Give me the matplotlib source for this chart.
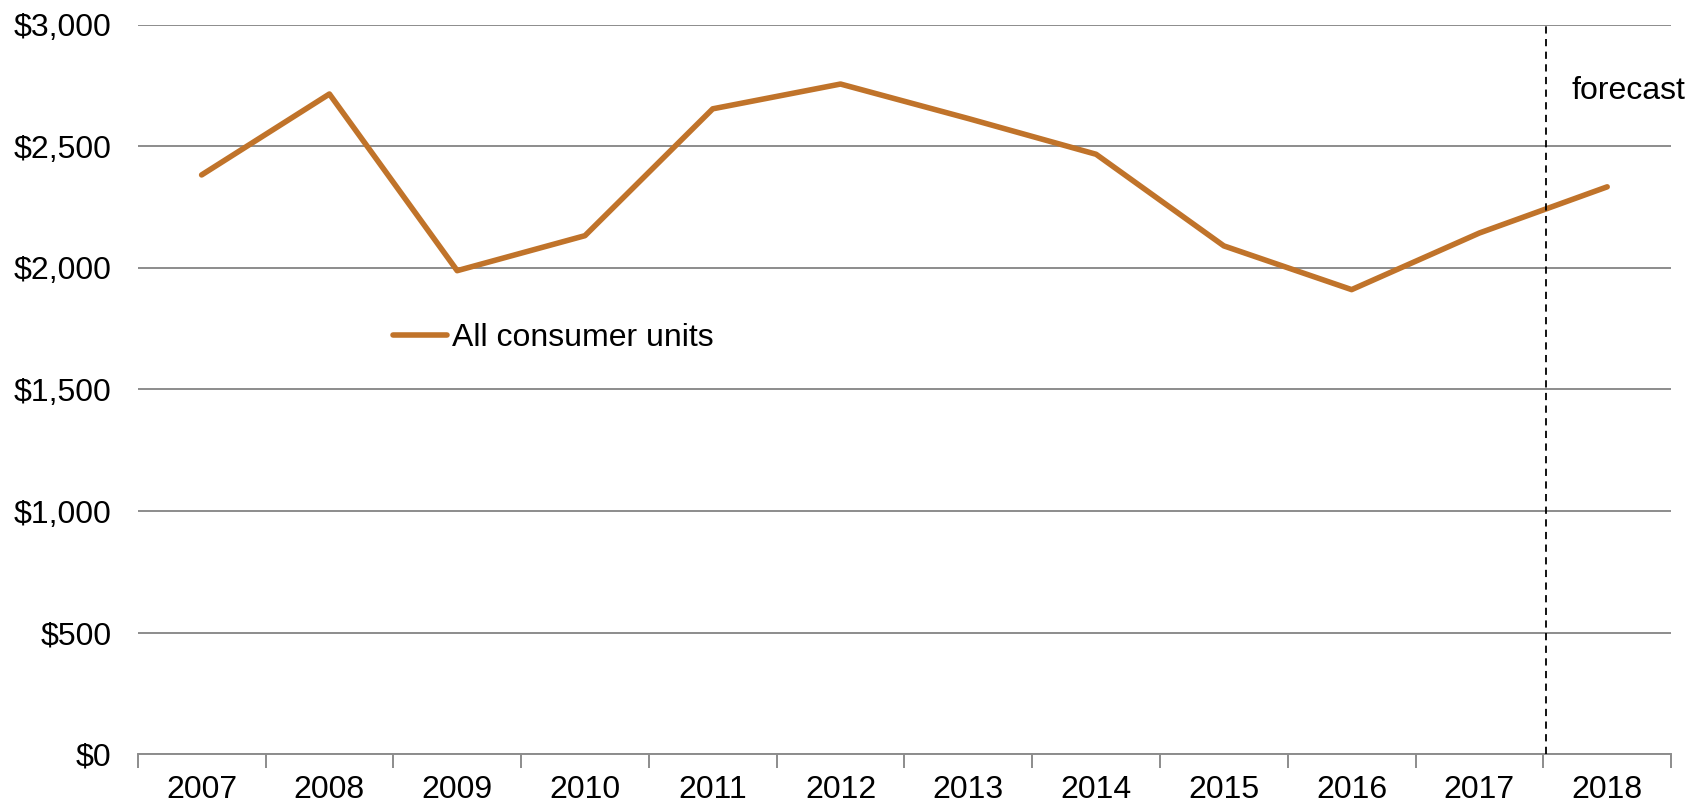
import matplotlib
matplotlib.use('Agg')
import matplotlib.pyplot as plt
import numpy as np

years = ['2007', '2008', '2009', '2010', '2011', '2012', '2013', '2014', '2015', '2016', '2017', '2018']
spending = [2383, 2716, 1989, 2133, 2655, 2757, 2615, 2468, 2091, 1911, 2144, 2334]
series_name = 'All consumer units'
y_ticks = [0, 500, 1000, 1500, 2000, 2500, 3000]
forecast_at = 10.52

fs = 23
matplotlib.rcParams.update({'font.family': ['Liberation Sans', 'DejaVu Sans'], 'font.size': fs})

fig = plt.figure(figsize=(16.9, 8.06), dpi=100)
ax = fig.add_axes([0.0815, 0.0645, 0.9073, 0.9045])

x = np.arange(len(years))
ax.plot(x, spending, color='#C0732A', linewidth=4.0, solid_capstyle='round',
        solid_joinstyle='round', label=series_name, zorder=3)

ax.axvline(forecast_at, color='black', linestyle=(0, (4, 3)), linewidth=1.3, zorder=4)
ax.text(forecast_at + 0.2, 2730, 'forecast', ha='left', va='center', fontsize=fs)

ax.set_xlim(-0.5, len(years) - 0.5)
ax.set_ylim(0, 3000)

ax.set_yticks(y_ticks)
ax.set_yticklabels(['${:,}'.format(v) for v in y_ticks])
ax.yaxis.grid(True, color='#8c8c8c', linewidth=1.4)
ax.set_axisbelow(True)
ax.tick_params(axis='y', length=0, pad=19)

# boundaries get the tick marks, centres get the labels
ax.set_xticks(np.arange(-0.5, len(years), 1.0))
ax.set_xticklabels([])
ax.set_xticks(x, minor=True)
ax.set_xticklabels(years, minor=True)
ax.tick_params(axis='x', which='major', length=10, width=1.4, color='#8c8c8c', direction='out')
ax.tick_params(axis='x', which='minor', length=0, pad=15)

for s in ['top', 'right', 'left']:
    ax.spines[s].set_visible(False)
ax.spines['bottom'].set_color('#8c8c8c')
ax.spines['bottom'].set_linewidth(1.4)

ax.legend(loc='center left', bbox_to_anchor=(393 / 1690, 1 - 338 / 806),
          bbox_transform=fig.transFigure, frameon=False, borderpad=0,
          borderaxespad=0, handlelength=1.7, handletextpad=0.15, fontsize=fs)

plt.savefig('out.png', dpi=100)
